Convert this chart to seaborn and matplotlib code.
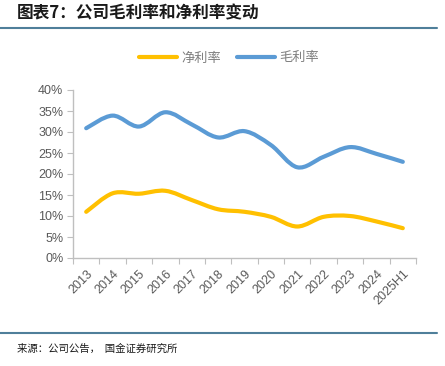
import numpy as np
import seaborn as sns
import matplotlib.pyplot as plt
from matplotlib.path import Path
from matplotlib.patches import PathPatch
from matplotlib.lines import Line2D
from matplotlib.ticker import FixedLocator, PercentFormatter

years = ['2013', '2014', '2015', '2016', '2017', '2018', '2019', '2020',
         '2021', '2022', '2023', '2024', '2025H1']
net_margin = [11.0, 15.4, 15.3, 16.0, 13.8, 11.6, 11.0, 9.8, 7.5, 9.8, 10.0, 8.7, 7.1]
gross_margin = [30.9, 33.9, 31.3, 34.7, 31.8, 28.7, 30.2, 26.9, 21.6, 24.1, 26.4, 24.8, 22.9]

CJK = ['Noto Sans CJK SC', 'DejaVu Sans']
LAT = ['Liberation Sans', 'DejaVu Sans']
YELLOW = '#FFC000'
BLUE = '#5B9BD5'
GREY = '#595959'
AXIS = '#BFBFBF'
RULE = '#4F7F9A'


def smooth_path(xs, ys):
    # Excel-style smoothed line: cubic Bezier segments between the data points
    pts = np.column_stack([xs, ys]).astype(float)
    n = len(pts)
    verts = [pts[0]]
    codes = [Path.MOVETO]
    for i in range(n - 1):
        p0 = pts[i - 1] if i > 0 else pts[i]
        p1 = pts[i]
        p2 = pts[i + 1]
        p3 = pts[i + 2] if i + 2 < n else pts[i + 1]
        c1 = p1 + (p2 - p0) / 6
        c2 = p2 - (p3 - p1) / 6
        verts += [c1, c2, p2]
        codes += [Path.CURVE4] * 3
    return Path(verts, codes)


sns.set_style('white')
plt.rcParams['font.family'] = LAT

fig = plt.figure(figsize=(4.45, 3.66), dpi=100)
ax = fig.add_axes([73 / 445, 1 - 258 / 366, (416 - 73) / 445, (258 - 90) / 366])

x = np.arange(len(years))
for vals, col in [(net_margin, YELLOW), (gross_margin, BLUE)]:
    ax.add_patch(PathPatch(smooth_path(x, vals), facecolor='none', edgecolor=col,
                           lw=3.0, capstyle='round', joinstyle='round'))

ax.set_xlim(-0.5, len(years) - 0.5)
ax.set_ylim(0, 40)
ax.yaxis.set_major_locator(FixedLocator(np.arange(0, 41, 5)))
ax.yaxis.set_major_formatter(PercentFormatter(decimals=0))
ax.xaxis.set_major_locator(FixedLocator(np.arange(-0.5, len(years), 1.0)))
ax.xaxis.set_major_formatter(plt.NullFormatter())
ax.xaxis.set_minor_locator(FixedLocator(x))
ax.set_xticklabels(years, minor=True, rotation=45, ha='right', rotation_mode='anchor')

for s in ['top', 'right']:
    ax.spines[s].set_visible(False)
for s in ['left', 'bottom']:
    ax.spines[s].set_color(AXIS)
    ax.spines[s].set_linewidth(1.0)
ax.tick_params(axis='y', which='major', length=4, color=AXIS, labelcolor=GREY,
               labelsize=9, pad=3, direction='out', left=True)
ax.tick_params(axis='x', which='major', length=4, color=AXIS, direction='out', bottom=True)
ax.tick_params(axis='x', which='minor', length=0, labelcolor=GREY, labelsize=9, pad=7)

handles = [Line2D([], [], color=YELLOW, lw=3, solid_capstyle='round'),
           Line2D([], [], color=BLUE, lw=3, solid_capstyle='round')]
fig.legend(handles, ['净利率', '毛利率'], loc='center', bbox_to_anchor=(229 / 445, 1 - 58 / 366),
           ncol=2, frameon=False, handlelength=2.9, handletextpad=0.3, columnspacing=1.2,
           prop={'family': CJK, 'size': 9.5}, labelcolor='#7F7F7F')

fig.text(17 / 445, 1 - 13 / 366, '图表7：公司毛利率和净利率变动', family=CJK,
         fontsize=12, fontweight='bold', va='center', ha='left', color='#1A1A1A')
fig.add_artist(Line2D([0, 437 / 445], [1 - 28 / 366] * 2, color=RULE, lw=1.5))
fig.add_artist(Line2D([0, 437 / 445], [1 - 333 / 366] * 2, color=RULE, lw=1.5))
fig.text(17 / 445, 1 - 349 / 366, '来源：公司公告，  国金证券研究所', family=CJK,
         fontsize=7.5, va='center', ha='left', color='#1A1A1A')

fig.savefig('out.png', dpi=100)
